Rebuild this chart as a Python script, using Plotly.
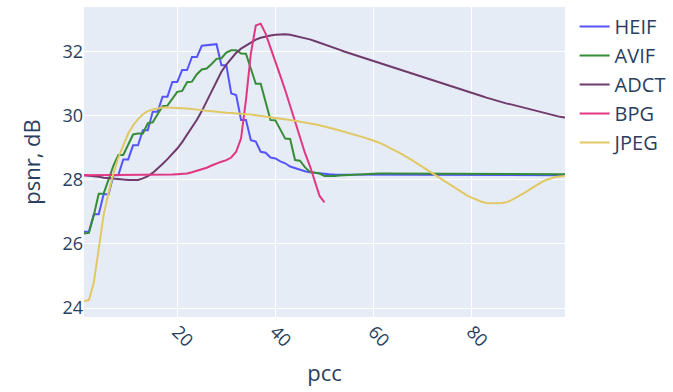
import plotly.graph_objects as go

pcc = list(range(1, 100))

heif = [26.38, 26.38, 26.93, 26.93, 27.55, 27.55, 28.15, 28.15, 28.64, 28.64,
        29.08, 29.08, 29.55, 29.55, 30.13, 30.13, 30.6, 30.6, 31.06, 31.06,
        31.43, 31.43, 31.84, 31.84, 32.19, 32.2, 32.22, 32.24, 31.58, 31.58,
        30.7, 30.65, 29.87, 29.87, 29.24, 29.2, 28.88, 28.85, 28.7, 28.67,
        28.58, 28.52, 28.42, 28.37, 28.3, 28.27, 28.24, 28.22, 28.2, 28.19,
        28.18, 28.17, 28.17, 28.17, 28.17, 28.17, 28.16, 28.16, 28.16, 28.16,
        28.16, 28.15, 28.15, 28.15, 28.15, 28.15, 28.15, 28.15, 28.15, 28.15,
        28.15, 28.15, 28.15, 28.15, 28.15, 28.15, 28.15, 28.15, 28.15, 28.15,
        28.15, 28.15, 28.15, 28.15, 28.15, 28.15, 28.15, 28.15, 28.15, 28.15,
        28.15, 28.15, 28.15, 28.15, 28.15, 28.15, 28.15, 28.15, 28.15]

avif = [26.33, 26.35, 26.9, 27.57, 27.57, 28.0, 28.45, 28.78, 28.78, 29.1,
        29.42, 29.45, 29.45, 29.77, 29.8, 30.05, 30.3, 30.32, 30.55, 30.75,
        30.78, 31.05, 31.07, 31.3, 31.45, 31.48, 31.62, 31.78, 31.8, 31.98,
        32.05, 32.05, 31.95, 31.94, 31.47, 31.0, 31.0, 30.43, 29.87, 29.86,
        29.57, 29.29, 29.28, 28.62, 28.6, 28.4, 28.25, 28.23, 28.2, 28.12,
        28.11, 28.12, 28.14, 28.15, 28.16, 28.17, 28.18, 28.18, 28.19, 28.2,
        28.2, 28.2, 28.2, 28.2, 28.2, 28.2, 28.2, 28.2, 28.2, 28.2,
        28.2, 28.19, 28.18, 28.18, 28.18, 28.18, 28.18, 28.18, 28.18, 28.18,
        28.18, 28.18, 28.18, 28.18, 28.18, 28.18, 28.18, 28.18, 28.18, 28.18,
        28.18, 28.18, 28.18, 28.18, 28.18, 28.18, 28.18, 28.18, 28.18]

adct = [28.15, 28.14, 28.12, 28.1, 28.07, 28.05, 28.03, 28.02, 28.01, 28.0,
        28.0, 28.0, 28.05, 28.12, 28.22, 28.35, 28.5, 28.65, 28.8, 28.98,
        29.18, 29.4, 29.62, 29.88, 30.15, 30.45, 30.8, 31.1, 31.38, 31.6,
        31.8, 31.97, 32.1, 32.2, 32.3, 32.38, 32.44, 32.48, 32.51, 32.53,
        32.55, 32.55, 32.53, 32.5, 32.47, 32.43, 32.39, 32.34, 32.29, 32.23,
        32.18, 32.12, 32.07, 32.01, 31.96, 31.91, 31.86, 31.81, 31.76, 31.71,
        31.66, 31.61, 31.56, 31.51, 31.45, 31.41, 31.36, 31.31, 31.26, 31.21,
        31.16, 31.1, 31.06, 31.02, 30.95, 30.9, 30.86, 30.82, 30.77, 30.72,
        30.67, 30.62, 30.57, 30.52, 30.47, 30.42, 30.39, 30.36, 30.32, 30.28,
        30.24, 30.2, 30.15, 30.11, 30.07, 30.03, 30.0, 29.97, 29.95]

bpg_x = list(range(1, 51))
bpg = [28.15, 28.15, 28.15, 28.15, 28.15, 28.15, 28.15, 28.15, 28.15, 28.15,
       28.15, 28.15, 28.15, 28.16, 28.16, 28.16, 28.17, 28.17, 28.17, 28.18,
       28.19, 28.2, 28.24, 28.28, 28.33, 28.38, 28.45, 28.52, 28.57, 28.62,
       28.7, 28.88, 29.3, 30.5, 31.95, 32.82, 32.88, 32.57, 32.15, 31.7,
       31.25, 30.8, 30.3, 29.8, 29.3, 28.85, 28.45, 27.98, 27.5, 27.3]

jpeg = [24.22, 24.25, 24.8, 25.9, 26.9, 27.6, 28.2, 28.7, 29.1, 29.45,
        29.7, 29.9, 30.05, 30.15, 30.2, 30.24, 30.26, 30.26, 30.26, 30.25,
        30.24, 30.23, 30.22, 30.2, 30.18, 30.16, 30.14, 30.13, 30.12, 30.1,
        30.09, 30.07, 30.06, 30.05, 30.04, 30.02, 30.0, 29.98, 29.96, 29.95,
        29.93, 29.91, 29.88, 29.85, 29.82, 29.8, 29.77, 29.74, 29.71, 29.68,
        29.63, 29.59, 29.55, 29.5, 29.46, 29.42, 29.37, 29.33, 29.28, 29.23,
        29.17, 29.1, 29.03, 28.95, 28.87, 28.78, 28.7, 28.6, 28.5, 28.4,
        28.3, 28.2, 28.1, 28.0, 27.9, 27.8, 27.7, 27.6, 27.52, 27.45,
        27.38, 27.32, 27.28, 27.27, 27.27, 27.28, 27.3, 27.36, 27.44, 27.53,
        27.62, 27.72, 27.82, 27.91, 27.99, 28.05, 28.09, 28.11, 28.12]

series = [
    ("HEIF", pcc, heif, "rgb(85,85,250)"),
    ("AVIF", pcc, avif, "rgb(55,140,55)"),
    ("ADCT", pcc, adct, "rgb(112,58,108)"),
    ("BPG", bpg_x, bpg, "rgb(225,55,130)"),
    ("JPEG", pcc, jpeg, "rgb(225,200,100)"),
]

fig = go.Figure()
for name, xs, ys, col in series:
    fig.add_trace(go.Scatter(x=xs, y=ys, mode="lines", name=name,
                             line=dict(color=col, width=2)))

fig.update_layout(
    width=673, height=392,
    template="plotly",
    font=dict(size=18),
    legend=dict(font=dict(size=20)),
    margin=dict(l=84, r=108, t=7, b=75, autoexpand=False),
    xaxis=dict(title=dict(text="pcc"), range=[1, 99], tickangle=45,
               tickvals=[20, 40, 60, 80]),
    yaxis=dict(title=dict(text="psnr, dB"), range=[23.72, 33.40],
               tickvals=[24, 26, 28, 30, 32]),
)

fig.write_html("out.html")
